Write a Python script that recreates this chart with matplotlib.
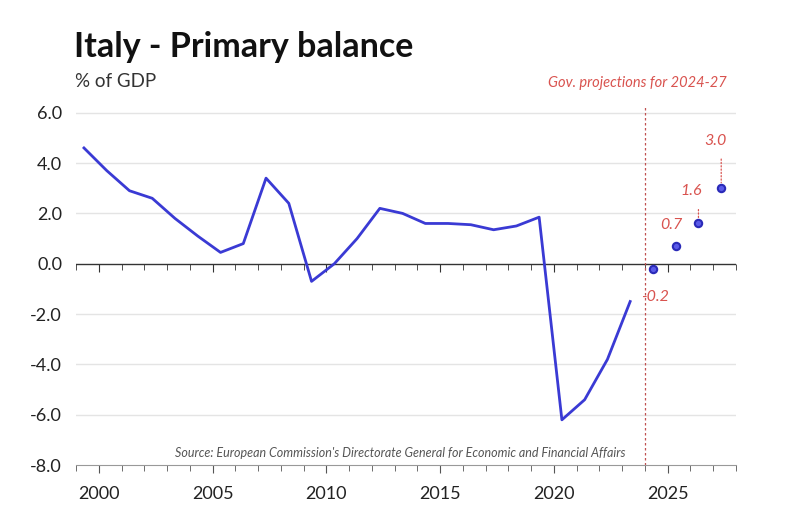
import numpy as np
import matplotlib.pyplot as plt

# Primaerueberschuss Italien, % des BIP
jahre = [1999, 2000, 2001, 2002, 2003, 2004, 2005, 2006, 2007, 2008, 2009, 2010,
         2011, 2012, 2013, 2014, 2015, 2016, 2017, 2018, 2019, 2020, 2021, 2022, 2023]
saldo = [4.6, 3.7, 2.9, 2.6, 1.8, 1.1, 0.45, 0.8, 3.4, 2.4, -0.7, 0.0,
         1.0, 2.2, 2.0, 1.6, 1.6, 1.55, 1.35, 1.5, 1.85, -6.2, -5.4, -3.8, -1.5]

# Regierungsprojektionen 2024-27
proj_jahre = [2024, 2025, 2026, 2027]
proj_saldo = [-0.2, 0.7, 1.6, 3.0]
proj_labels = ['-0.2', '0.7', '1.6', '3.0']

y_ticks = [-8, -6, -4, -2, 0, 2, 4, 6]
x_ticks = [2000, 2005, 2010, 2015, 2020, 2025]

blau = '#3a3ad4'
rot = '#d9534f'
pos = 0.35  # Werte liegen in der Jahresmitte

plt.rcParams['font.family'] = ['Lato', 'DejaVu Sans']

fig = plt.figure(figsize=(8, 5.31), dpi=100)
ax = fig.add_axes([0.095, 0.124, 0.825, 0.678])

ax.plot(np.array(jahre) + pos, saldo, color=blau, lw=2, zorder=3)
ax.scatter(np.array(proj_jahre) + pos, proj_saldo, s=28, color='#5a5ae8',
           edgecolor='#2a2ab8', linewidth=1.5, zorder=4)

# Beschriftung: Versatz des Textes und Laenge der gepunkteten Verbindung (Punkte)
offsets = [(1.5, -15), (-3, 10), (-5, 18), (-4.5, 29)]
stiele = [0, 0, 10, 21]
for x, y, lab, off, st in zip(proj_jahre, proj_saldo, proj_labels, offsets, stiele):
    ax.annotate(lab, (x + pos, y), xytext=off, textcoords='offset points',
                ha='center', va='bottom' if y > 0 else 'top', color=rot,
                fontsize=11.5, style='italic')
    if st:
        ax.annotate('', (x + pos, y), xytext=(0, st), textcoords='offset points',
                    arrowprops=dict(arrowstyle='-', color=rot, lw=0.9, ls=':',
                                    shrinkA=0, shrinkB=4))

ax.set_xlim(1999, 2028)
ax.set_ylim(-8, 6.3)

ax.set_yticks(y_ticks)
ax.set_yticklabels([f'{v:.1f}' for v in y_ticks], fontsize=13, color='#222222')
ax.set_xticks(x_ticks)
ax.set_xticks(range(1999, 2029), minor=True)
ax.set_xticklabels([str(v) for v in x_ticks], fontsize=13, color='#222222')
ax.tick_params(axis='y', length=0, pad=10)
ax.tick_params(axis='x', which='major', length=6, color='#555555', pad=9)
ax.tick_params(axis='x', which='minor', length=4, color='#555555')

for v in y_ticks[1:]:
    if v != 0:
        ax.axhline(v, color='#e4e4e4', lw=1, zorder=1)
ax.axhline(0, color='#333333', lw=1, zorder=2)

# Nulllinie mit Teilstrichen
sec = ax.secondary_xaxis(8 / 14.3)
sec.set_xticks(x_ticks)
sec.set_xticks(range(1999, 2029), minor=True)
sec.tick_params(axis='x', which='major', direction='in', length=6, color='#333333', labeltop=False, labelbottom=False)
sec.tick_params(axis='x', which='minor', direction='in', length=4, color='#333333')
sec.spines['top'].set_visible(False)
sec.spines['bottom'].set_visible(False)

for s in ['top', 'right', 'left']:
    ax.spines[s].set_visible(False)
ax.spines['bottom'].set_color('#999999')

ax.axvline(2024, color='#c05050', lw=0.9, ls=(0, (2, 2)), zorder=2)

fig.text(0.093, 0.893, 'Italy - Primary balance', fontsize=24.5, fontweight='bold', color='#111111')
fig.text(0.094, 0.836, '% of GDP', fontsize=13.5, color='#333333')
fig.text(0.909, 0.836, 'Gov. projections for 2024-27', fontsize=10.5, style='italic',
         color=rot, ha='right')
fig.text(0.5, 0.139, "Source: European Commission's Directorate General for Economic and Financial Affairs",
         fontsize=9, style='italic', color='#555555', ha='center')

fig.savefig('out.png', dpi=100)
